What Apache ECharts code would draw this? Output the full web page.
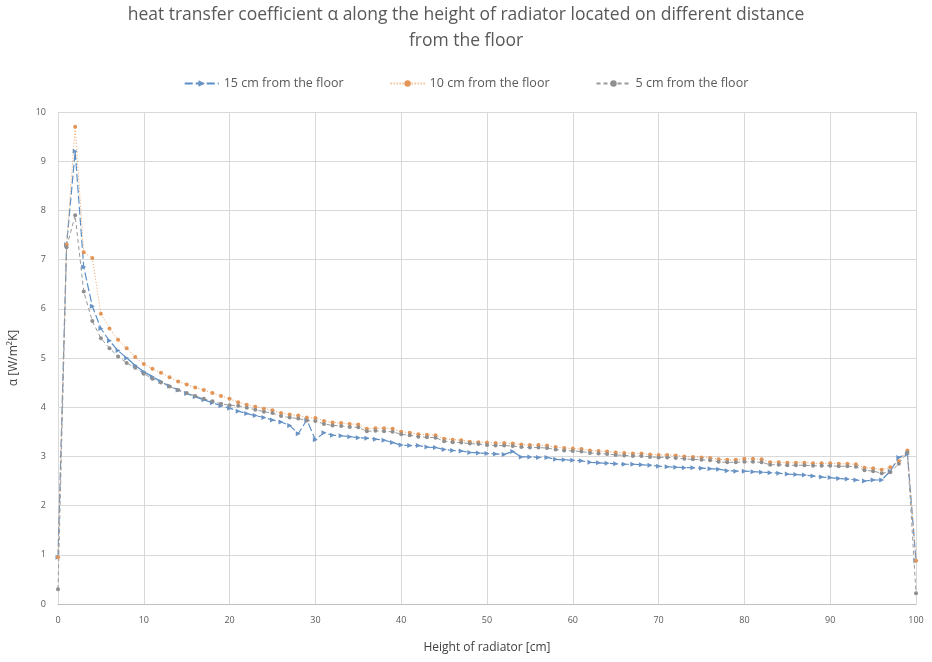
<!DOCTYPE html>
<html>
<head>
<meta charset="utf-8">
<script src="https://cdn.jsdelivr.net/npm/echarts@6/dist/echarts.min.js"></script>
<style>
html,body{margin:0;padding:0;background:#fff;}
#chart{width:932px;height:662px;}
</style>
</head>
<body>
<div id="chart"></div>
<script>
var heights = [0,1,2,3,4,5,6,7,8,9,10,11,12,13,14,15,16,17,18,19,20,21,22,23,24,25,26,27,28,29,30,31,32,33,34,35,36,37,38,39,40,41,42,43,44,45,46,47,48,49,50,51,52,53,54,55,56,57,58,59,60,61,62,63,64,65,66,67,68,69,70,71,72,73,74,75,76,77,78,79,80,81,82,83,84,85,86,87,88,89,90,91,92,93,94,95,96,97,98,99,100];

var cm15 = [0.95,7.3,9.2,6.85,6.05,5.6,5.35,5.15,5.0,4.85,4.72,4.62,4.52,4.43,4.35,4.28,4.21,4.15,4.09,4.03,3.98,3.92,3.87,3.83,3.79,3.74,3.7,3.63,3.46,3.74,3.34,3.48,3.43,3.42,3.4,3.38,3.37,3.35,3.33,3.28,3.23,3.22,3.22,3.19,3.18,3.14,3.12,3.11,3.08,3.07,3.06,3.05,3.04,3.1,2.99,2.99,2.98,2.98,2.94,2.93,2.92,2.91,2.88,2.87,2.86,2.85,2.84,2.84,2.83,2.82,2.8,2.79,2.78,2.77,2.77,2.76,2.75,2.74,2.71,2.7,2.7,2.69,2.68,2.67,2.66,2.64,2.63,2.62,2.6,2.58,2.57,2.55,2.54,2.52,2.5,2.52,2.52,2.7,2.98,3.05,0.88];

var cm10 = [0.95,7.3,9.7,7.15,7.03,5.9,5.6,5.37,5.2,5.02,4.88,4.78,4.7,4.61,4.52,4.46,4.4,4.35,4.29,4.23,4.17,4.1,4.05,4.01,3.97,3.94,3.88,3.85,3.83,3.79,3.78,3.72,3.69,3.68,3.66,3.65,3.56,3.57,3.57,3.56,3.5,3.48,3.45,3.44,3.43,3.36,3.34,3.33,3.3,3.29,3.28,3.27,3.27,3.26,3.24,3.23,3.23,3.22,3.19,3.17,3.16,3.15,3.12,3.11,3.1,3.08,3.07,3.06,3.06,3.04,3.03,3.03,3.02,3.0,2.99,2.98,2.97,2.94,2.93,2.93,2.95,2.95,2.94,2.88,2.88,2.87,2.87,2.87,2.86,2.86,2.86,2.85,2.85,2.84,2.77,2.76,2.73,2.78,2.9,3.12,0.88];

var cm5 = [0.3,7.25,7.9,6.35,5.75,5.4,5.2,5.03,4.9,4.8,4.68,4.58,4.5,4.42,4.35,4.29,4.23,4.17,4.12,4.07,4.04,4.03,3.99,3.95,3.91,3.88,3.82,3.79,3.77,3.73,3.72,3.66,3.63,3.62,3.6,3.59,3.51,3.52,3.51,3.5,3.45,3.43,3.4,3.39,3.38,3.31,3.29,3.28,3.26,3.25,3.23,3.22,3.22,3.21,3.19,3.18,3.18,3.17,3.14,3.12,3.11,3.1,3.07,3.06,3.05,3.03,3.02,3.01,3.01,2.99,2.98,2.98,2.97,2.95,2.94,2.93,2.92,2.89,2.88,2.88,2.89,2.89,2.88,2.83,2.83,2.82,2.82,2.82,2.81,2.81,2.81,2.8,2.8,2.79,2.72,2.7,2.66,2.68,2.85,3.08,0.22];

var seriesNames = ['15 cm from the floor','10 cm from the floor','5 cm from the floor'];
var titleText = 'heat transfer coefficient \u03b1 along the height of radiator located on different distance\nfrom the floor';
var xName = 'Height of radiator [cm]';
var yName = '\u03b1 [W/m\u00b2K]';

function pairs(vals){ return heights.map(function(h,i){ return [h, vals[i]]; }); }

var FONT = '"Open Sans", sans-serif';
var chart = echarts.init(document.getElementById('chart'), null, {renderer:'canvas'});
chart.setOption({
  animation:false,
  backgroundColor:'#ffffff',
  title:{
    text:titleText,
    left:'center',
    top:2,
    padding:[0,5,0,5],
    textStyle:{fontFamily:FONT,fontSize:17.5,fontWeight:'normal',color:'#595959',lineHeight:26}
  },
  legend:{
    top:72,
    left:'center',
    itemGap:46,
    itemWidth:34,
    itemHeight:8,
    textStyle:{fontFamily:FONT,fontSize:12.5,color:'#595959'},
    data:seriesNames
  },
  grid:{left:57,right:16,top:112,bottom:58,containLabel:false},
  xAxis:{
    type:'value',min:0,max:100,interval:10,
    name:xName,nameLocation:'middle',nameGap:38,
    nameTextStyle:{fontFamily:FONT,fontSize:12,color:'#404040'},
    axisLine:{show:true,lineStyle:{color:'#bfbfbf'}},
    axisTick:{show:false},
    axisLabel:{fontFamily:FONT,fontSize:9,color:'#595959',margin:12},
    splitLine:{show:true,lineStyle:{color:'#d9d9d9'}}
  },
  yAxis:{
    type:'value',min:0,max:10,interval:1,
    name:yName,nameLocation:'middle',nameGap:38,nameRotate:90,
    nameTextStyle:{fontFamily:FONT,fontSize:12,color:'#404040'},
    axisLine:{show:false},
    axisTick:{show:false},
    axisLabel:{fontFamily:FONT,fontSize:9,color:'#595959',margin:12},
    splitLine:{show:true,lineStyle:{color:'#d9d9d9'}}
  },
  series:[
    {
      name:seriesNames[0],type:'line',data:pairs(cm15),
      symbol:'triangle',symbolRotate:-90,symbolSize:5,
      itemStyle:{color:'#6a93c4'},
      lineStyle:{color:'#5b8fc7',width:1.2,type:[8,3]}
    },
    {
      name:seriesNames[1],type:'line',data:pairs(cm10),
      symbol:'circle',symbolSize:4,
      itemStyle:{color:'#e39557'},
      lineStyle:{color:'#f0a060',width:1,type:[1,2]}
    },
    {
      name:seriesNames[2],type:'line',data:pairs(cm5),
      symbol:'circle',symbolSize:4,
      itemStyle:{color:'#8f8f8f'},
      lineStyle:{color:'#9a9a9a',width:1,type:[4,3]}
    }
  ]
});
</script>
</body>
</html>
